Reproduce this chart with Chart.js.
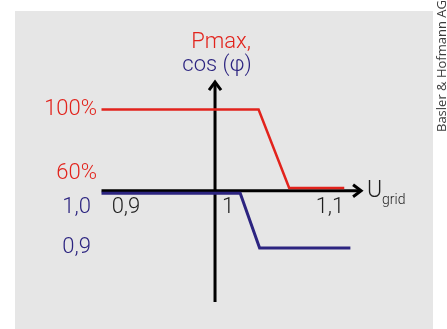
<!DOCTYPE html>
<html lang="de">
<head>
    <meta charset="UTF-8">
    <title>Pmax / cos(phi) vs Ugrid</title>
    <script src="https://cdn.jsdelivr.net/npm/chart.js"></script>
    <style>
        body { margin: 0; background: #ffffff; }
        #box { width: 447px; height: 329px; }
    </style>
</head>
<body>
<div id="box">
    <canvas id="grafico" width="447" height="329"></canvas>
</div>
<script>
    // dados
    var uPmax = [0.876, 1.03, 1.06, 1.114];
    var pmax = [100, 100, 60, 60];
    var uCos = [0.876, 1.012, 1.031, 1.12];
    var cosPhi = [1.0, 1.0, 0.9, 0.9];

    var xTicks = [0.9, 1, 1.1];
    var xTickLabels = ['0,9', '1', '1,1'];
    var pTicks = [100, 60];
    var pTickLabels = ['100%', '60%'];
    var cTicks = [1.0, 0.9];
    var cTickLabels = ['1,0', '0,9'];

    var vermelho = '#e2231c';
    var azul = '#2c2480';
    var fonte = 'Roboto, "Liberation Sans", Arial, sans-serif';

    function pontos(xs, ys) {
        var lista = [];
        for (var i = 0; i < xs.length; i++) {
            lista.push({ x: xs[i], y: ys[i] });
        }
        return lista;
    }

    // eixos com seta, rotulos e fundo
    var desenho = {
        id: 'desenho',
        beforeDraw: function (chart) {
            var ctx = chart.ctx;
            var a = chart.chartArea;
            ctx.save();
            ctx.fillStyle = '#ffffff';
            ctx.fillRect(0, 0, chart.width, chart.height);
            ctx.fillStyle = '#e6e6e6';
            ctx.fillRect(a.left, a.top, a.right - a.left, a.bottom - a.top);

            // credito
            ctx.translate(446, 132);
            ctx.rotate(-Math.PI / 2);
            ctx.fillStyle = '#3c3c3c';
            ctx.font = '13px "Open Sans", sans-serif';
            ctx.textBaseline = 'alphabetic';
            ctx.fillText('Basler & Hofmann AG', 0, 0);
            ctx.restore();
        },
        beforeDatasetsDraw: function (chart) {
            var ctx = chart.ctx;
            var x = chart.scales.x;
            var yp = chart.scales.yp;
            var yc = chart.scales.yc;

            var ox = x.getPixelForValue(0.9873);
            var oy = yp.getPixelForValue(58.6);
            var xIni = x.getPixelForValue(0.876);
            var xFim = x.getPixelForValue(1.1305);
            var yTopo = yp.getPixelForValue(114);
            var yBase = yp.getPixelForValue(1.9);

            ctx.save();
            ctx.strokeStyle = '#000000';
            ctx.lineWidth = 3;
            ctx.lineCap = 'butt';
            ctx.lineJoin = 'miter';
            ctx.beginPath();
            ctx.moveTo(xIni, oy);
            ctx.lineTo(xFim - 2, oy);
            ctx.moveTo(ox, yBase);
            ctx.lineTo(ox, yTopo + 2);
            ctx.stroke();

            // setas
            ctx.beginPath();
            ctx.moveTo(xFim - 8, oy - 6);
            ctx.lineTo(xFim, oy);
            ctx.lineTo(xFim - 8, oy + 6);
            ctx.moveTo(ox - 6, yTopo + 8);
            ctx.lineTo(ox, yTopo);
            ctx.lineTo(ox + 6, yTopo + 8);
            ctx.stroke();

            ctx.textBaseline = 'middle';

            // rotulos do eixo x
            ctx.font = '300 22px ' + fonte;
            ctx.fillStyle = '#1e1e1e';
            ctx.textAlign = 'center';
            for (var i = 0; i < xTicks.length; i++) {
                ctx.fillText(xTickLabels[i], x.getPixelForValue(xTicks[i]), oy + 17);
            }

            // rotulos Pmax
            ctx.fillStyle = vermelho;
            ctx.textAlign = 'right';
            for (var j = 0; j < pTicks.length; j++) {
                var py = yp.getPixelForValue(pTicks[j]);
                if (Math.abs(py - oy) < 16) py = oy - 17;
                ctx.fillText(pTickLabels[j], 97, py);
            }

            // rotulos cos
            ctx.fillStyle = azul;
            for (var k = 0; k < cTicks.length; k++) {
                var cy = yc.getPixelForValue(cTicks[k]);
                if (Math.abs(cy - oy) < 16) cy = oy + 17;
                ctx.fillText(cTickLabels[k], 91, cy);
            }

            // titulo do eixo y
            ctx.textAlign = 'center';
            ctx.fillStyle = vermelho;
            ctx.fillText('Pmax,', ox + 6, 42);
            ctx.fillStyle = azul;
            ctx.fillText('cos (\u03c6)', ox + 2, 65);

            // titulo do eixo x
            ctx.textAlign = 'left';
            ctx.fillStyle = '#1e1e1e';
            ctx.font = '300 23px ' + fonte;
            ctx.fillText('U', xFim + 6, oy);
            ctx.font = '300 14px ' + fonte;
            ctx.fillText('grid', xFim + 21, oy + 10);
            ctx.restore();
        }
    };

    var config = {
        type: 'scatter',
        data: {
            datasets: [{
                label: 'Pmax',
                data: pontos(uPmax, pmax),
                showLine: true,
                borderColor: vermelho,
                borderWidth: 2.5,
                pointRadius: 0,
                tension: 0,
                yAxisID: 'yp'
            }, {
                label: 'cos(phi)',
                data: pontos(uCos, cosPhi),
                showLine: true,
                borderColor: azul,
                borderWidth: 3,
                pointRadius: 0,
                tension: 0,
                yAxisID: 'yc'
            }]
        },
        options: {
            responsive: false,
            animation: false,
            events: [],
            layout: { padding: { left: 15, top: 11, right: 14, bottom: 0 } },
            plugins: {
                legend: { display: false },
                tooltip: { enabled: false }
            },
            scales: {
                x: { type: 'linear', display: false, min: 0.7912, max: 1.201 },
                yp: { type: 'linear', display: false, min: -11.85, max: 150.2 },
                yc: { type: 'linear', display: false, min: 0.7519, max: 1.3333 }
            }
        },
        plugins: [desenho]
    };

    var myChart = new Chart(document.getElementById('grafico'), config);
</script>
</body>
</html>
